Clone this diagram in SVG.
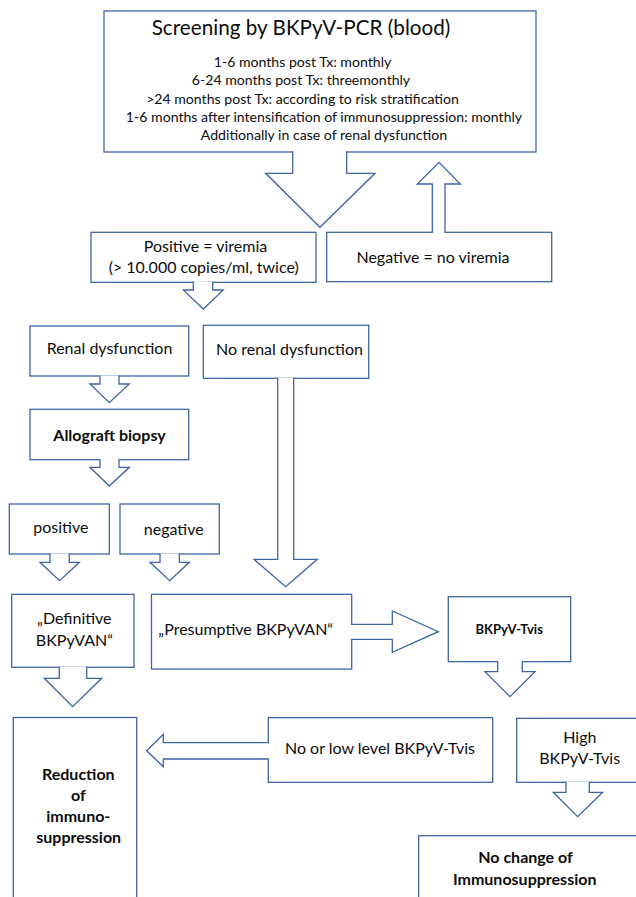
<svg xmlns="http://www.w3.org/2000/svg" width="636" height="897" viewBox="0 0 636 897">
<style>
.box{fill:#fff;stroke:#3f64a6;stroke-width:1.3}
.arr{fill:#fff;stroke:#3f64a6;stroke-width:1.3;stroke-linejoin:miter}
text{font-family:Lato,"Open Sans","Liberation Sans",sans-serif;fill:#0d0d0d;text-anchor:middle}
.t20{font-size:20.7px}
.t13{font-size:14.1px}
.t15{font-size:16px}
.b15{font-size:16px;font-weight:bold}
.b12{font-size:13px;font-weight:bold}
</style>
<rect width="636" height="897" fill="#fff"/>
<g id="screening">
<rect class="box" x="104" y="11" width="432" height="141"/>
<text class="t20" x="301" y="35">Screening by BKPyV-PCR (blood)</text>
<text class="t13" x="302.5" y="67">1-6 months post Tx: monthly</text>
<text class="t13" x="301" y="85.3">6-24 months post Tx: threemonthly</text>
<text class="t13" x="302.5" y="103.6">&gt;24 months post Tx: according to risk stratification</text>
<text class="t13" x="324" y="122">1-6 months after intensification of immunosuppression: monthly</text>
<text class="t13" x="324" y="140.3">Additionally in case of renal dysfunction</text>
</g>
<g id="positive">
<rect class="box" x="91" y="232.3" width="225" height="50"/>
<text class="t15" x="205.5" y="252.3">Positive = viremia</text>
<text class="t15" x="203.7" y="273.3">(&gt; 10.000 copies/ml, twice)</text>
</g>
<g id="negative">
<rect class="box" x="326.7" y="232.3" width="225" height="49.4"/>
<text class="t15" x="433" y="262.7">Negative = no viremia</text>
</g>
<g id="renal">
<rect class="box" x="30" y="326" width="158.7" height="50"/>
<text class="t15" x="109.5" y="354.3">Renal dysfunction</text>
</g>
<g id="norenal">
<rect class="box" x="203.3" y="325.3" width="165.4" height="53"/>
<text class="t15" x="289.5" y="355">No renal dysfunction</text>
</g>
<g id="biopsy">
<rect class="box" x="30" y="409.3" width="158.7" height="50.4"/>
<text class="b15" x="109.5" y="441">Allograft biopsy</text>
</g>
<g id="bpositive">
<rect class="box" x="9.3" y="504" width="100" height="50"/>
<text class="t15" x="60.8" y="532.7">positive</text>
</g>
<g id="bnegative">
<rect class="box" x="120" y="504" width="99.3" height="50"/>
<text class="t15" x="173.7" y="535">negative</text>
</g>
<g id="definitive">
<rect class="box" x="11.7" y="594.3" width="122.3" height="73"/>
<text class="t15" x="74.3" y="624.3">„Definitive</text>
<text class="t15" x="74.5" y="646">BKPyVAN“</text>
</g>
<g id="presumptive">
<rect class="box" x="151.5" y="594.3" width="200.2" height="74.7"/>
<text class="t15" x="158.3" y="635" style="text-anchor:start">„Presumptive BKPyVAN“</text>
</g>
<g id="tvis">
<rect class="box" x="448.3" y="596.7" width="122.4" height="65"/>
<text class="b12" x="509.2" y="634.3">BKPyV-Tvis</text>
</g>
<g id="reduction">
<rect class="box" x="13.3" y="717.5" width="123.4" height="190"/>
<text class="b15" x="78.3" y="780">Reduction</text>
<text class="b15" x="78.3" y="801.3">of</text>
<text class="b15" x="78.3" y="822">immuno-</text>
<text class="b15" x="78.7" y="843.3">suppression</text>
</g>
<g id="lowlevel">
<rect class="box" x="268.3" y="717.7" width="224.4" height="64.6"/>
<text class="t15" x="380" y="754.3">No or low level BKPyV-Tvis</text>
</g>
<g id="high">
<rect class="box" x="516.7" y="718.3" width="130" height="64"/>
<text class="t15" x="579.8" y="743.3">High</text>
<text class="t15" x="579.7" y="764.3">BKPyV-Tvis</text>
</g>
<g id="nochange">
<rect class="box" x="418.7" y="835.7" width="230" height="80"/>
<text class="b15" x="525.5" y="862.7">No change of</text>
<text class="b15" x="524.7" y="885">Immunosuppression</text>
</g>
<g id="connectors">
<path class="arr" d="M292.7,151 L292.7,173.3 L265.7,173.3 L320,227.3 L375,173.3 L346.7,173.3 L346.7,151"/>
<path class="arr" d="M432.3,233 L432.3,184 L417.3,184 L439,162.3 L460.3,184 L445,184 L445,233"/>
<path class="arr" d="M193.3,281.5 L193.3,290 L183.3,290 L203.3,309 L223.3,290 L212.7,290 L212.7,281.5"/>
<path class="arr" d="M100,375.5 L100,384 L90,384 L109.3,402.7 L129.3,384 L119,384 L119,375.5"/>
<path class="arr" d="M100,459 L100,467.3 L90,467.3 L109.3,486 L129.3,467.3 L119,467.3 L119,459"/>
<path class="arr" d="M277.7,377.8 L277.7,559.3 L254,559.3 L285.7,586.7 L317.3,559.3 L293.7,559.3 L293.7,377.8"/>
<path class="arr" d="M50,553.5 L50,562.3 L40,562.3 L59.7,580.7 L79.3,562.3 L69.3,562.3 L69.3,553.5"/>
<path class="arr" d="M160,553.5 L160,562.3 L150,562.3 L169.7,580.7 L189.3,562.3 L179.3,562.3 L179.3,553.5"/>
<path class="arr" d="M59.3,666.7 L59.3,678.3 L44.3,678.3 L72.7,706.7 L101.7,678.3 L86.7,678.3 L86.7,666.7"/>
<path class="arr" d="M351,624.3 L392.3,624.3 L392.3,611 L438.3,631.7 L392.3,652.3 L392.3,639.3 L351,639.3"/>
<path class="arr" d="M497.7,661 L497.7,671.7 L485,671.7 L510,696.7 L535,671.7 L522.3,671.7 L522.3,661"/>
<path class="arr" d="M269,742.7 L163.3,742.7 L163.3,734.3 L146.7,750.7 L163.3,766.7 L163.3,759 L269,759"/>
<path class="arr" d="M566,781.7 L566,792.3 L553.3,792.3 L577.7,816.7 L602.7,792.3 L589.3,792.3 L589.3,781.7"/>
</g>
</svg>
